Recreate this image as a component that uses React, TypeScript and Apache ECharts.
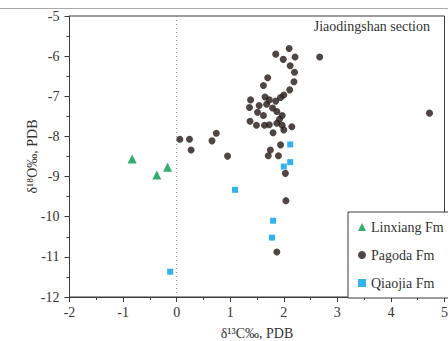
import React, { useEffect, useRef } from "react";
import * as echarts from "echarts";

const xTicks = { min: -2, max: 5, interval: 1 };
const yTicks = { min: -12, max: -5, interval: 1 };

const linxiangC = [-0.83, -0.37, -0.17];
const linxiangO = [-8.56, -8.96, -8.77];

const pagodaC = [2.10, 1.85, 1.99, 2.21, 2.67, 2.12, 2.20, 2.19, 1.70, 1.62, 2.11, 2.00, 1.94, 1.65, 1.73, 1.85, 1.38, 1.36, 1.54, 1.68, 1.79, 1.51, 1.87, 1.62, 1.97, 1.92, 1.37, 1.49, 1.64, 1.73, 1.87, 1.97, 2.15, 2.00, 1.80, 4.72, 0.74, 0.06, 0.24, 0.27, 0.66, 0.95, 1.94, 1.75, 1.71, 1.90, 2.03, 2.04, 1.87];
const pagodaO = [-5.81, -5.95, -6.08, -6.02, -6.02, -6.24, -6.40, -6.64, -6.54, -6.73, -6.84, -6.97, -7.03, -7.02, -7.09, -7.12, -7.09, -7.28, -7.23, -7.20, -7.29, -7.40, -7.38, -7.48, -7.48, -7.57, -7.62, -7.72, -7.72, -7.71, -7.67, -7.72, -7.76, -7.84, -7.91, -7.42, -7.92, -8.07, -8.07, -8.34, -8.11, -8.49, -8.21, -8.34, -8.48, -8.48, -8.92, -9.60, -10.88];

const qiaojiaC = [2.12, 2.12, 2.00, 1.09, 1.80, 1.78, -0.12];
const qiaojiaO = [-8.20, -8.64, -8.75, -9.33, -10.10, -10.52, -11.37];

const zeroLineC = [0, 0];
const zeroLineO = [-5, -12];

const seriesNames = ["Linxiang Fm", "Pagoda Fm", "Qiaojia Fm"];
const titleText = "Jiaodingshan section";
const xName = "δ¹³C‰, PDB";
const yName = "δ¹⁸O‰, PDB";

const zip = (a: number[], b: number[]) => a.map((v, i) => [v, b[i]]);

const FONT = "'Liberation Serif', 'Times New Roman', serif";
const AXIS = "#3a3a3a";
const TXT = "#333";

export default function App() {
  const ref = useRef<HTMLDivElement>(null);
  useEffect(() => {
    if (!ref.current) return;
    const chart = echarts.init(ref.current, null, { renderer: "svg" });
    const axisCommon = {
      type: "value" as const,
      axisLine: { show: true, onZero: false, lineStyle: { color: AXIS, width: 1 } },
      axisTick: { show: true, inside: false, length: 5, lineStyle: { color: AXIS } },
      minorTick: { show: true, splitNumber: 2, length: 3, lineStyle: { color: AXIS } },
      splitLine: { show: false },
      minorSplitLine: { show: false },
      nameLocation: "middle" as const,
      nameMoveOverlap: false,
      nameTextStyle: { fontFamily: FONT, fontSize: 14, color: TXT },
    };
    chart.setOption({
      animation: false,
      backgroundColor: "#fff",
      title: {
        text: titleText,
        right: 18,
        top: 19,
        padding: 0,
        textStyle: { fontFamily: FONT, fontSize: 14, fontWeight: "normal", color: TXT },
      },
      grid: {
        left: 69.5,
        right: 3.5,
        top: 16,
        bottom: 44,
        outerBoundsMode: "none",
        containLabel: false,
        show: true,
        borderColor: AXIS,
        borderWidth: 1,
        backgroundColor: "transparent",
      },
      legend: {
        orient: "vertical",
        left: 348,
        top: 212,
        padding: [8, 30, 8, 10],
        itemGap: 14,
        itemWidth: 8,
        itemHeight: 8,
        borderColor: AXIS,
        borderWidth: 1,
        backgroundColor: "#fff",
        data: seriesNames,
        textStyle: { fontFamily: FONT, fontSize: 14, color: TXT },
      },
      xAxis: {
        ...axisCommon,
        min: xTicks.min,
        max: xTicks.max,
        interval: xTicks.interval,
        name: xName,
        nameGap: 29,
        axisLabel: { margin: 8, fontFamily: FONT, fontSize: 14, color: TXT },
      },
      yAxis: {
        ...axisCommon,
        min: yTicks.min,
        max: yTicks.max,
        interval: yTicks.interval,
        name: yName,
        nameGap: 30,
        axisLabel: { margin: 10, fontFamily: FONT, fontSize: 14, color: TXT },
      },
      graphic: [
        {
          type: "line",
          shape: { x1: 0, y1: 8.5, x2: 448, y2: 8.5 },
          style: { stroke: "#aaa", lineWidth: 1 },
          silent: true,
        },
      ],
      series: [
        {
          name: "zero",
          type: "line",
          data: zip(zeroLineC, zeroLineO),
          symbol: "none",
          silent: true,
          lineStyle: { color: "#888", width: 1, type: [1, 3] },
          z: 1,
        },
        {
          name: seriesNames[0],
          type: "scatter",
          symbol: "triangle",
          symbolSize: 9,
          itemStyle: { color: "#009944" },
          data: zip(linxiangC, linxiangO),
          z: 3,
        },
        {
          name: seriesNames[1],
          type: "scatter",
          symbol: "circle",
          symbolSize: 7,
          itemStyle: { color: "#231815" },
          data: zip(pagodaC, pagodaO),
          z: 3,
        },
        {
          name: seriesNames[2],
          type: "scatter",
          symbol: "rect",
          symbolSize: 6,
          itemStyle: { color: "#00a0e9" },
          data: zip(qiaojiaC, qiaojiaO),
          z: 3,
        },
      ],
    });
    return () => chart.dispose();
  }, []);
  return (
    <div
      ref={ref}
      style={{ position: "fixed", left: 0, top: 0, width: 448, height: 341 }}
    />
  );
}
